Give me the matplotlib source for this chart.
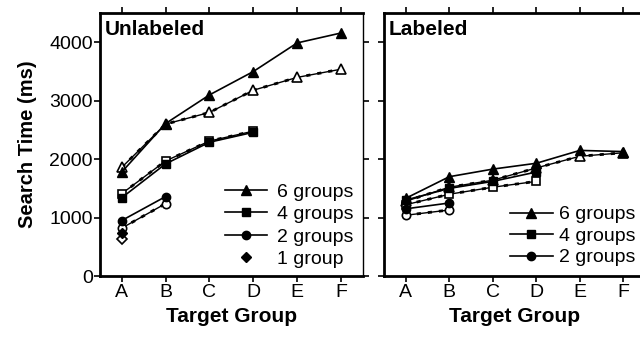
import matplotlib
matplotlib.use('Agg')
import matplotlib.pyplot as plt
import numpy as np

matplotlib.rc('font', family='Liberation Sans', size=14)

groups = ['A', 'B', 'C', 'D', 'E', 'F']
x = np.arange(len(groups))

# Unlabeled (filled = solid line, open = dashed)
unl_6_fill = [1780, 2610, 3100, 3500, 3990, 4160]
unl_6_open = [1860, 2600, 2800, 3180, 3400, 3540]
unl_4_fill = [1340, 1920, 2290, 2460]
unl_4_open = [1410, 1970, 2310, 2480]
unl_2_fill = [950, 1360]
unl_2_open = [820, 1240]
unl_1_fill = [730]
unl_1_open = [630]

# Labeled
lab_6_fill = [1330, 1700, 1830, 1930, 2150, 2130]
lab_6_open = [1280, 1520, 1640, 1850, 2050, 2110]
lab_4_fill = [1300, 1500, 1620, 1780]
lab_4_open = [1220, 1400, 1520, 1620]
lab_2_fill = [1150, 1250]
lab_2_open = [1040, 1130]

yticks = [0, 1000, 2000, 3000, 4000]

fig = plt.figure(figsize=(6.4, 3.37), dpi=100)
ax1 = fig.add_axes([0.156, 0.181, 0.411, 0.780])
ax2 = fig.add_axes([0.600, 0.181, 0.408, 0.780])

ms = {'^': 7.5, 's': 6, 'o': 6, 'D': 5.5}


def draw(ax, fill, opn, mk, label):
    n = len(fill)
    # open series: solid line plus dashed overlay
    ax.plot(x[:n], opn, color='black', lw=1.0, zorder=2)
    ax.plot(x[:n], opn, color='black', lw=2.0, ls=(0, (1.5, 2.5)), zorder=2)
    ax.plot(x[:n], opn, ls='none', marker=mk, ms=ms[mk], mfc='white',
            mec='black', mew=1.2, zorder=3)
    ax.plot(x[:n], fill, color='black', lw=1.2, marker=mk, ms=ms[mk],
            mfc='black', mec='black', zorder=4, label=label)


draw(ax1, unl_6_fill, unl_6_open, '^', '6 groups')
draw(ax1, unl_4_fill, unl_4_open, 's', '4 groups')
draw(ax1, unl_2_fill, unl_2_open, 'o', '2 groups')
ax1.plot(x[:1], unl_1_open, ls='none', marker='D', ms=ms['D'], mfc='white',
         mec='black', mew=1.2, zorder=3)
ax1.plot(x[:1], unl_1_fill, ls='none', marker='D', ms=ms['D'], mfc='black',
         mec='black', zorder=4, label='1 group')

draw(ax2, lab_6_fill, lab_6_open, '^', '6 groups')
draw(ax2, lab_4_fill, lab_4_open, 's', '4 groups')
draw(ax2, lab_2_fill, lab_2_open, 'o', '2 groups')

for ax, title in [(ax1, 'Unlabeled'), (ax2, 'Labeled')]:
    ax.set_xlim(-0.5, 5.5)
    ax.set_ylim(0, 4500)
    ax.set_xticks(x)
    ax.set_xticklabels(groups, fontsize=14)
    ax.set_yticks(yticks)
    ax.tick_params(axis='x', which='both', top=True, direction='out',
                   length=4, width=1.2, pad=2)
    ax.tick_params(axis='y', which='both', right=True, direction='out',
                   length=4, width=1.2, pad=1, labelsize=14)
    for s in ['left', 'bottom', 'top']:
        ax.spines[s].set_linewidth(2)
    ax.spines['right'].set_linewidth(1)
    ax.set_xlabel('Target Group', fontsize=15, fontweight='bold', labelpad=4)
    ax.text(0.018, 0.975, title, transform=ax.transAxes, fontsize=15,
            fontweight='bold', va='top', ha='left')

ax1.set_ylabel('Search Time (ms)', fontsize=14.5, fontweight='bold', labelpad=9)
ax2.set_yticklabels([])

ax1.legend(loc='lower left', bbox_to_anchor=(0.423, -0.022), frameon=False,
           handlelength=2.2, handletextpad=0.5, labelspacing=0.25,
           borderpad=0.2, fontsize=14)
ax2.legend(loc='lower left', bbox_to_anchor=(0.43, -0.015), frameon=False,
           handlelength=2.2, handletextpad=0.35, labelspacing=0.2,
           borderpad=0.2, fontsize=14)

fig.savefig('out.png', dpi=100)
